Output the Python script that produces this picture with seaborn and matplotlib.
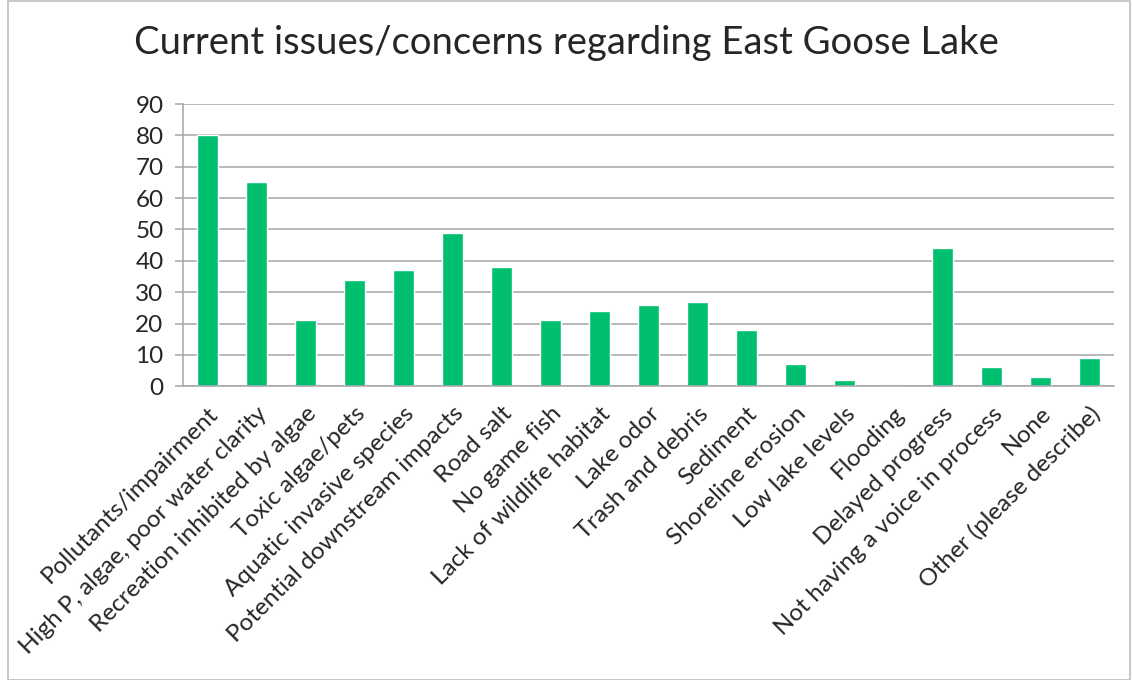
import numpy as np
import pandas as pd
import seaborn as sns
import matplotlib.pyplot as plt
from matplotlib.patches import Rectangle

# Survey responses
issues = [
    'Pollutants/impairment', 'High P, algae, poor water clarity',
    'Recreation inhibited by algae', 'Toxic algae/pets', 'Aquatic invasive species',
    'Potential downstream impacts', 'Road salt', 'No game fish',
    'Lack of wildlife habitat', 'Lake odor', 'Trash and debris', 'Sediment',
    'Shoreline erosion', 'Low lake levels', 'Flooding', 'Delayed progress',
    'Not having a voice in process', 'None', 'Other (please describe)',
]
counts = [80, 65, 21, 34, 37, 49, 38, 21, 24, 26, 27, 18, 7, 2, 0, 44, 6, 3, 9]
y_ticks = [0, 10, 20, 30, 40, 50, 60, 70, 80, 90]

df = pd.DataFrame({'issue': issues, 'count': counts})

sns.set_style('white')
plt.rcParams['font.family'] = ['Lato', 'DejaVu Sans']

fig = plt.figure(figsize=(11.33, 6.8), dpi=100)
ax = fig.add_axes([0.1615, 0.432, 0.8217, 0.415])

sns.barplot(data=df, x='issue', y='count', color='#00BF6F', saturation=1,
            width=0.41, ax=ax)

ax.set_ylim(0, 90)
ax.set_xlim(-0.5, len(issues) - 0.5)
ax.set_yticks(y_ticks)
ax.yaxis.grid(True, color='#A6A6A6', linewidth=1.1)
ax.set_axisbelow(True)
ax.set_xlabel('')
ax.set_ylabel('')

for side in ['top', 'right']:
    ax.spines[side].set_visible(False)
ax.spines['left'].set_color('#A6A6A6')
ax.spines['bottom'].set_color('#A6A6A6')
ax.spines['left'].set_linewidth(1.1)
ax.spines['bottom'].set_linewidth(1.1)

# category labels, ticks at category boundaries
ax.set_xticks(np.arange(len(issues)))
ax.set_xticklabels(issues, rotation=45, ha='right', rotation_mode='anchor',
                   fontsize=17.5)
ax.tick_params(axis='x', length=0, pad=12)
ax.set_xticks(np.arange(len(issues) + 1) - 0.5, minor=True)
ax.tick_params(axis='x', which='minor', length=6, color='#A6A6A6', width=1.1)
ax.tick_params(axis='y', labelsize=17.5, length=6, color='#A6A6A6', width=1.1,
               left=True, pad=8)

fig.text(0.5, 0.937, 'Current issues/concerns regarding East Goose Lake',
         ha='center', va='center', fontsize=27.5)

# chart border
fig.add_artist(Rectangle((0.007, 0.0), 0.99, 0.999, transform=fig.transFigure,
                         fill=False, edgecolor='#BFBFBF', linewidth=1.2))

fig.savefig('out.png', dpi=100)
